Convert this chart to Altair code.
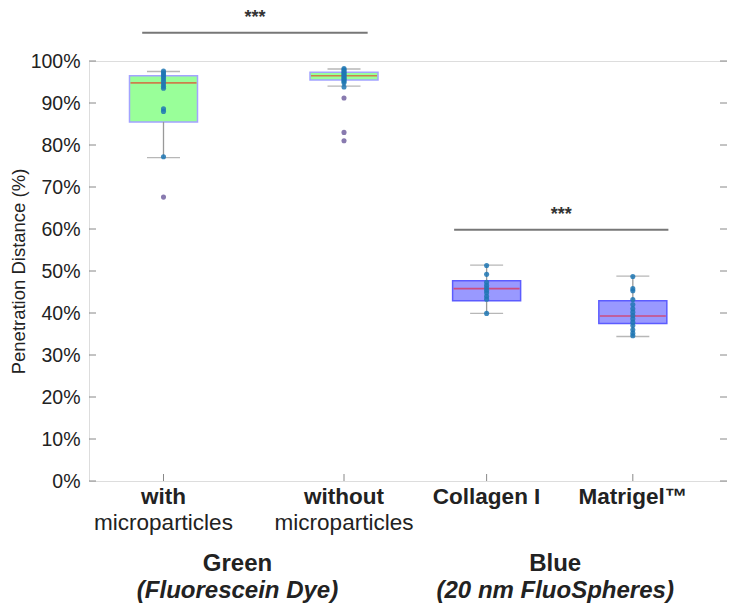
import altair as alt
import pandas as pd

# ---- data ----
categories = ["with", "without", "Collagen I", "Matrigel™"]
subtitles = ["microparticles", "microparticles", "", ""]
dye = ["Green", "Green", "Blue", "Blue"]
positions = [1.0, 2.0, 2.79, 3.6]
q1 = [85.5, 95.5, 42.9, 37.5]
median = [94.8, 96.5, 45.8, 39.3]
q3 = [96.5, 97.3, 47.7, 42.9]
whisker_low = [77.0, 94.0, 39.9, 34.4]
whisker_high = [97.5, 98.1, 51.4, 48.8]

points_with = [97.6, 97.2, 96.8, 96.3, 95.8, 95.2, 94.6, 94.0, 93.5, 88.6, 88.0, 77.2]
points_without = [98.2, 97.9, 97.6, 97.3, 97.0, 96.7, 96.4, 96.1, 95.8, 95.5, 95.2, 94.8, 93.8]
points_collagen = [51.3, 49.2, 47.3, 46.6, 46.0, 45.4, 44.8, 44.0, 43.3, 39.9]
points_matrigel = [48.7, 45.8, 45.3, 43.2, 42.0, 41.0, 40.2, 39.4, 38.6, 37.8, 37.0, 36.0, 35.2, 34.6]

outliers_with = [67.6]
outliers_without = [91.2, 83.0, 81.0]
outliers_collagen = []
outliers_matrigel = []

group_names = ["Green", "Blue"]
group_subtitles = ["(Fluorescein Dye)", "(20 nm FluoSpheres)"]
group_centers = [1.41, 3.17]

sig_x1 = [0.882, 2.61]
sig_x2 = [2.131, 3.797]
sig_y = [106.7, 59.8]
sig_text = ["***", "***"]

y_ticks = list(range(0, 101, 10))

# ---- tables ----
boxes = pd.DataFrame({
    "cat": categories, "sub": subtitles, "dye": dye, "pos": positions,
    "q1": q1, "med": median, "q3": q3, "lo": whisker_low, "hi": whisker_high,
})

pts_rows, out_rows = [], []
for p, vals in zip(positions, [points_with, points_without, points_collagen, points_matrigel]):
    pts_rows += [{"pos": p, "v": v} for v in vals]
for p, vals in zip(positions, [outliers_with, outliers_without, outliers_collagen, outliers_matrigel]):
    out_rows += [{"pos": p, "v": v} for v in vals]
pts = pd.DataFrame(pts_rows)
outs = pd.DataFrame(out_rows)
groups = pd.DataFrame({"name": group_names, "sub": group_subtitles, "pos": group_centers})
sig = pd.DataFrame({"x1": sig_x1, "x2": sig_x2, "y": sig_y, "t": sig_text})
yt = pd.DataFrame({"v": y_ticks})

FONT = "Liberation Sans"
TXT = "#222222"
xs = alt.Scale(domain=[0.615, 4.094], nice=False, zero=False)
ys = alt.Scale(domain=[0, 100], nice=False, zero=False)
GRAY = "#999999"

yaxis = alt.Axis(
    values=y_ticks, labelExpr="datum.value + '%'", ticks=False, domain=False,
    grid=False, labelFontSize=19.5, labelPadding=9, labelColor=TXT,
    labelFont=FONT, title="Penetration Distance (%)", titleFont=FONT,
    titleFontSize=18.5, titleFontWeight="normal", titleColor=TXT,
    titlePadding=2)

X = lambda f: alt.X(f, type="quantitative", scale=xs, axis=None)
Y = lambda f: alt.Y(f, type="quantitative", scale=ys, axis=yaxis, title="Penetration Distance (%)")

box = alt.Chart(boxes).mark_bar(size=68, strokeWidth=1.5).encode(
    x=X("pos"),
    y=Y("q1"),
    y2="q3:Q",
    fill=alt.Fill("dye:N", scale=alt.Scale(domain=["Green", "Blue"], range=["#99ff99", "#9999ff"]), legend=None),
    stroke=alt.Stroke("dye:N", scale=alt.Scale(domain=["Green", "Blue"], range=["#a3a3ff", "#5c5cff"]), legend=None),
)

wl = alt.Chart(boxes).mark_rule(color=GRAY, strokeWidth=1.3).encode(x=X("pos"), y=Y("lo"), y2="q1:Q")
wh = alt.Chart(boxes).mark_rule(color=GRAY, strokeWidth=1.3).encode(x=X("pos"), y=Y("q3"), y2="hi:Q")
cap_l = alt.Chart(boxes).mark_tick(orient="horizontal", size=33, thickness=1.3, color=GRAY).encode(x=X("pos"), y=Y("lo"))
cap_h = alt.Chart(boxes).mark_tick(orient="horizontal", size=33, thickness=1.3, color=GRAY).encode(x=X("pos"), y=Y("hi"))
med = alt.Chart(boxes).mark_tick(orient="horizontal", size=66, thickness=1.6, color="#ff0000", opacity=0.5).encode(x=X("pos"), y=Y("med"))

dots = alt.Chart(pts).mark_circle(size=26, color="#1f77b4", opacity=0.85).encode(x=X("pos"), y=Y("v"))
odots = alt.Chart(outs).mark_circle(size=26, color="#7b6ca6", opacity=0.9).encode(x=X("pos"), y=Y("v"))

tick_l = alt.Chart(yt).mark_rule(color="#888888").encode(y=Y("v"), x=alt.value(0), x2=alt.value(7))
tick_r = alt.Chart(yt).mark_rule(color="#888888").encode(y=Y("v"), x=alt.value(631), x2=alt.value(638))
tick_b = alt.Chart(boxes).mark_rule(color="#888888").encode(x=X("pos"), y=alt.value(413), y2=alt.value(420))

lab1 = alt.Chart(boxes).mark_text(font=FONT, fontSize=22.5, fontWeight="bold", color=TXT, baseline="middle").encode(
    x=X("pos"), y=alt.value(436), text="cat:N")
lab2 = alt.Chart(boxes).mark_text(font=FONT, fontSize=22.5, color=TXT, baseline="middle").encode(
    x=X("pos"), y=alt.value(462), text="sub:N")
g1 = alt.Chart(groups).mark_text(font=FONT, fontSize=24, fontWeight="bold", color=TXT, baseline="middle").encode(
    x=X("pos"), y=alt.value(503), text="name:N")
g2 = alt.Chart(groups).mark_text(font=FONT, fontSize=24, fontWeight="bold", fontStyle="italic", color=TXT, baseline="middle").encode(
    x=X("pos"), y=alt.value(530), text="sub:N")

sig_rule = alt.Chart(sig).mark_rule(color="#777777", strokeWidth=2).encode(x=X("x1"), x2="x2:Q", y=Y("y"))
sig_lab = alt.Chart(sig).transform_calculate(xm="(datum.x1 + datum.x2) / 2").mark_text(
    font=FONT, fontSize=18, fontWeight="bold", color="#333333", baseline="top", dy=-24).encode(
    x=X("xm"), y=Y("y"), text="t:N")

chart = alt.layer(
    box, wl, wh, cap_l, cap_h, med, dots, odots, tick_l, tick_r, tick_b,
    lab1, lab2, g1, g2, sig_rule, sig_lab,
).properties(
    width=638, height=420,
    autosize=alt.AutoSizeParams(type="none"),
    padding={"left": 81, "top": 53, "right": 0, "bottom": 125},
).configure_view(stroke="#999999", strokeWidth=1).configure(background="white")

chart.save("out.html", embed_options={"renderer": "svg", "actions": False})
